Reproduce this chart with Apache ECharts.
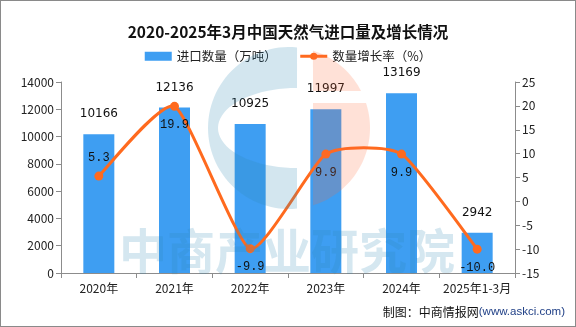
<!DOCTYPE html>
<html>
<head>
<meta charset="utf-8">
<script src="https://cdn.jsdelivr.net/npm/echarts@6/dist/echarts.min.js"></script>
<style>
  html, body { margin: 0; padding: 0; background: #fff; }
  #chart { width: 576px; height: 327px; box-sizing: border-box; border: 1px solid #8a8a8a; }
</style>
</head>
<body>
<div id="chart"></div>
<script>
// Natural gas imports, 2020 – Q1 2025
const categories = ['2020年', '2021年', '2022年', '2023年', '2024年', '2025年1-3月'];
const importVolume = [10166, 12136, 10925, 11997, 13169, 2942];   // 万吨
const growthRate = [5.3, 19.9, -9.9, 9.9, 9.9, -10.0];            // %
const growthLabelPos = ['top', 'bottom', 'bottom', 'bottom', 'bottom', 'bottom'];

const leftTicks = { min: 0, max: 14000, interval: 2000 };
const rightTicks = { min: -15, max: 25, interval: 5 };

const chart = echarts.init(document.getElementById('chart'), null, { renderer: 'canvas' });

const cjk = '"Noto Sans CJK SC", "Noto Sans", sans-serif';
const axisGray = '#8c8c8c';
const lineColor = '#ff6a1e';
const TENSION = 0.09;   // cardinal-spline control-point factor

// One cubic segment of a cardinal spline through the growth-rate points,
// from point i to point i+1, placed with the chart's own coordinate system.
function renderCurveSegment(params, api) {
  const i = params.dataIndex;
  const n = growthRate.length;
  if (i >= n - 1) return null;
  const pt = k => {
    const j = Math.max(0, Math.min(n - 1, k));
    return api.coord([j, growthRate[j]]);
  };
  const p0 = pt(i - 1), p1 = pt(i), p2 = pt(i + 1), p3 = pt(i + 2);
  return {
    type: 'bezierCurve',
    shape: {
      x1: p1[0], y1: p1[1],
      x2: p2[0], y2: p2[1],
      cpx1: p1[0] + (p2[0] - p0[0]) * TENSION,
      cpy1: p1[1] + (p2[1] - p0[1]) * TENSION,
      cpx2: p2[0] - (p3[0] - p1[0]) * TENSION,
      cpy2: p2[1] - (p3[1] - p1[1]) * TENSION
    },
    style: { stroke: lineColor, lineWidth: 3, fill: null, lineCap: 'round' }
  };
}

// Points along an elliptical arc, angles in degrees (screen orientation)
function arcPts(cx, cy, rx, ry, a0, a1, steps) {
  const out = [];
  for (let s = 0; s <= steps; s++) {
    const a = (a0 + (a1 - a0) * s / steps) * Math.PI / 180;
    out.push([cx + rx * Math.cos(a), cy + ry * Math.sin(a)]);
  }
  return out;
}

// faint logo: circle centre (288,127), r 81 — blue "C" on the left, orange halves on the right
const logoBlue = arcPts(288, 127, 81, 81, -84.3, -275.7, 60)
  .concat(arcPts(296, 127, 79, 40, 90, 270, 40));
const logoOrangeTop = arcPts(288, 127, 81, 81, -72.8, -27.2, 20).concat([[312, 90]]);
const logoOrangeBottom = [[312, 102]].concat(arcPts(288, 127, 81, 81, -18, 72.8, 40));

chart.setOption({
  animation: false,
  backgroundColor: '#fff',
  textStyle: { fontFamily: cjk },
  title: {
    text: '2020-2025年3月中国天然气进口量及增长情况',
    left: 'center',
    top: 18,
    textStyle: { fontSize: 15.5, fontWeight: 'bold', color: '#111', fontFamily: cjk }
  },
  legend: {
    top: 44,
    left: 'center',
    itemGap: 22,
    itemWidth: 27,
    itemHeight: 9,
    textStyle: { fontSize: 12.5, color: '#222', fontFamily: cjk },
    data: [
      { name: '进口数量（万吨）', icon: 'rect' },
      {
        name: '数量增长率（%）',
        lineStyle: { color: lineColor, width: 3, opacity: 1 },
        itemStyle: { color: lineColor, opacity: 1 }
      }
    ]
  },
  grid: { left: 60, right: 60, top: 81, bottom: 53 },
  xAxis: {
    type: 'category',
    data: categories,
    axisLine: { lineStyle: { color: axisGray } },
    axisTick: { show: true, alignWithLabel: false, length: 5, lineStyle: { color: axisGray } },
    axisLabel: { color: '#222', fontSize: 12, margin: 9, interval: 0 }
  },
  yAxis: [
    {
      type: 'value',
      min: leftTicks.min, max: leftTicks.max, interval: leftTicks.interval,
      axisLine: { show: true, lineStyle: { color: axisGray } },
      axisTick: { show: true, length: 5, lineStyle: { color: axisGray } },
      axisLabel: { color: '#222', fontSize: 12, margin: 7, formatter: v => String(v) },
      splitLine: { show: false }
    },
    {
      type: 'value',
      min: rightTicks.min, max: rightTicks.max, interval: rightTicks.interval,
      axisLine: { show: true, lineStyle: { color: axisGray } },
      axisTick: { show: true, length: 5, lineStyle: { color: axisGray } },
      axisLabel: { color: '#222', fontSize: 12, margin: 7, formatter: v => String(v) },
      splitLine: { show: false }
    }
  ],
  series: [
    {
      name: '进口数量（万吨）',
      type: 'bar',
      data: importVolume,
      barWidth: 31,
      itemStyle: { color: '#3e9ef2' },
      label: {
        show: true, position: 'top', distance: 14,
        color: '#111', fontSize: 12, fontFamily: '"DejaVu Sans", sans-serif'
      },
      z: 2
    },
    {
      name: 'growthCurve',
      type: 'custom',
      yAxisIndex: 1,
      data: growthRate.map((v, i) => [i, v]),
      encode: { x: 0, y: 1 },
      renderItem: renderCurveSegment,
      silent: true,
      z: 3
    },
    {
      name: '数量增长率（%）',
      type: 'line',
      yAxisIndex: 1,
      data: growthRate.map((v, i) => ({
        value: v,
        label: { position: growthLabelPos[i] }
      })),
      symbol: 'circle',
      symbolSize: 9,
      lineStyle: { color: lineColor, width: 3, opacity: 0 },
      itemStyle: { color: lineColor },
      label: {
        show: true, distance: 8,
        color: '#111', fontSize: 12, fontFamily: '"Liberation Mono", monospace',
        formatter: p => p.value.toFixed(1)
      },
      z: 4
    }
  ],
  graphic: [
    { type: 'polygon', z: 10, silent: true, shape: { points: logoBlue }, style: { fill: 'rgba(45,135,180,0.21)' } },
    { type: 'polygon', z: 10, silent: true, shape: { points: logoOrangeTop }, style: { fill: 'rgba(255,105,55,0.2)' } },
    { type: 'polygon', z: 10, silent: true, shape: { points: logoOrangeBottom }, style: { fill: 'rgba(255,105,55,0.2)' } },
    {
      type: 'text', left: 118, top: 226, z: 10, silent: true,
      style: {
        text: '中商产业研究院',
        font: 'bold 48px "Noto Sans CJK SC"',
        fill: 'rgba(45,135,180,0.2)'
      }
    },
    {
      type: 'text', right: 10, top: 305,
      style: {
        text: '{a|制图：中商情报网}{b|(www.askci.com)}',
        rich: {
          a: { fontSize: 12, fill: '#111', fontFamily: cjk },
          b: { fontSize: 11.5, fill: '#1f3f86', fontFamily: '"Liberation Sans", sans-serif' }
        }
      }
    }
  ]
});
</script>
</body>
</html>
